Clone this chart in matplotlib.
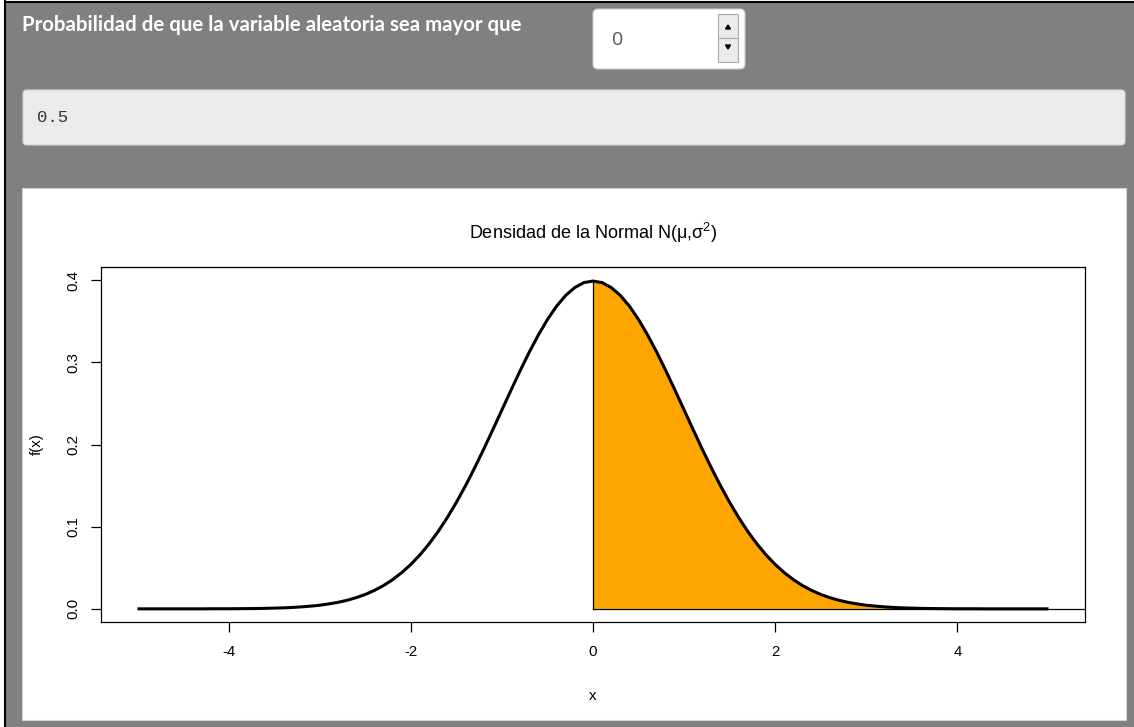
import matplotlib.pyplot as plt
from matplotlib.patches import FancyBboxPatch, Rectangle, Polygon

plt.rcParams['axes.unicode_minus'] = False
plt.rcParams['mathtext.fontset'] = 'custom'
plt.rcParams['mathtext.rm'] = 'Liberation Sans'
plt.rcParams['mathtext.it'] = 'Liberation Sans'

# === Données ===
x_vals = [-5.0, -4.9, -4.8, -4.7, -4.6, -4.5, -4.4, -4.3, -4.2, -4.1,
          -4.0, -3.9, -3.8, -3.7, -3.6, -3.5, -3.4, -3.3, -3.2, -3.1,
          -3.0, -2.9, -2.8, -2.7, -2.6, -2.5, -2.4, -2.3, -2.2, -2.1,
          -2.0, -1.9, -1.8, -1.7, -1.6, -1.5, -1.4, -1.3, -1.2, -1.1,
          -1.0, -0.9, -0.8, -0.7, -0.6, -0.5, -0.4, -0.3, -0.2, -0.1,
          0.0, 0.1, 0.2, 0.3, 0.4, 0.5, 0.6, 0.7, 0.8, 0.9,
          1.0, 1.1, 1.2, 1.3, 1.4, 1.5, 1.6, 1.7, 1.8, 1.9,
          2.0, 2.1, 2.2, 2.3, 2.4, 2.5, 2.6, 2.7, 2.8, 2.9,
          3.0, 3.1, 3.2, 3.3, 3.4, 3.5, 3.6, 3.7, 3.8, 3.9,
          4.0, 4.1, 4.2, 4.3, 4.4, 4.5, 4.6, 4.7, 4.8, 4.9, 5.0]
fx_vals = [0.0000, 0.0000, 0.0000, 0.0000, 0.0000, 0.0000, 0.0000, 0.0000, 0.0001, 0.0001,
           0.0001, 0.0002, 0.0003, 0.0004, 0.0006, 0.0009, 0.0012, 0.0017, 0.0024, 0.0033,
           0.0044, 0.0060, 0.0079, 0.0104, 0.0136, 0.0175, 0.0224, 0.0283, 0.0355, 0.0440,
           0.0540, 0.0656, 0.0790, 0.0940, 0.1109, 0.1295, 0.1497, 0.1714, 0.1942, 0.2179,
           0.2420, 0.2661, 0.2897, 0.3123, 0.3332, 0.3521, 0.3683, 0.3814, 0.3910, 0.3970,
           0.3989, 0.3970, 0.3910, 0.3814, 0.3683, 0.3521, 0.3332, 0.3123, 0.2897, 0.2661,
           0.2420, 0.2179, 0.1942, 0.1714, 0.1497, 0.1295, 0.1109, 0.0940, 0.0790, 0.0656,
           0.0540, 0.0440, 0.0355, 0.0283, 0.0224, 0.0175, 0.0136, 0.0104, 0.0079, 0.0060,
           0.0044, 0.0033, 0.0024, 0.0017, 0.0012, 0.0009, 0.0006, 0.0004, 0.0003, 0.0002,
           0.0001, 0.0001, 0.0001, 0.0000, 0.0000, 0.0000, 0.0000, 0.0000, 0.0000, 0.0000, 0.0000]
umbral = 0
probabilidad = "0.5"
x_ticks = [-4, -2, 0, 2, 4]
y_ticks = [0.0, 0.1, 0.2, 0.3, 0.4]

W, H = 1134, 727
GRIS = "#808080"

fig = plt.figure(figsize=(W / 100, H / 100), dpi=100)
fig.patch.set_facecolor("white")

# === Fond de l'application (coordonnées en pixels) ===
bg = fig.add_axes([0, 0, 1, 1])
bg.set_xlim(0, W)
bg.set_ylim(H, 0)
bg.axis("off")

bg.add_patch(Rectangle((5, 1), W - 5, H - 1, facecolor=GRIS, edgecolor="none"))
bg.plot([5, 5], [1, H], color="black", lw=1.5)
bg.plot([5, W], [1.5, 1.5], color="black", lw=1.5)

bg.text(22, 25, "Probabilidad de que la variable aleatoria sea mayor que",
        color="white", fontsize=14.7, fontweight="bold", family="Lato",
        va="center", ha="left")

# champ numérique
bg.add_patch(FancyBboxPatch((593, 9), 152, 60, boxstyle="round,pad=0,rounding_size=5",
                            facecolor="white", edgecolor="#cccccc", lw=0.8))
bg.text(612, 40, str(umbral), color="#555555", fontsize=14, family="Open Sans",
        va="center", ha="left")
bg.add_patch(Rectangle((718, 14), 20, 24, facecolor="#ebebeb", edgecolor="#aaaaaa", lw=0.8))
bg.add_patch(Rectangle((718, 38), 20, 24, facecolor="#ebebeb", edgecolor="#aaaaaa", lw=0.8))
bg.add_patch(Polygon([[725.5, 29], [730.5, 29], [728, 25]], closed=True, color="black"))
bg.add_patch(Polygon([[725.5, 45], [730.5, 45], [728, 49]], closed=True, color="black"))

# sortie texte
bg.add_patch(FancyBboxPatch((23, 90), 1102, 55, boxstyle="round,pad=0,rounding_size=4",
                            facecolor="#ebebeb", edgecolor="#d5d5d5", lw=0.8))
bg.text(37, 117, probabilidad, color="#333333", fontsize=12.5, family="Liberation Mono",
        va="center", ha="left")

# panneau blanc du graphique
bg.add_patch(Rectangle((22, 188), 1104, 532, facecolor="white", edgecolor="#d0d0d0", lw=0.8))

# === Graphique de la densité ===
left, right, top, bottom = 101, 1085, 267, 622
ax = fig.add_axes([left / W, (H - bottom) / H, (right - left) / W, (bottom - top) / H])
ax.set_xlim(-5.4, 5.4)
ax.set_ylim(-0.016, 0.416)

xs_fill = [x for x in x_vals if x >= umbral]
ys_fill = [y for x, y in zip(x_vals, fx_vals) if x >= umbral]
ax.fill_between(xs_fill, 0, ys_fill, facecolor="#FFA500", edgecolor="none", zorder=1)
ax.plot([umbral, umbral], [0, ys_fill[0]], color="black", lw=0.9, zorder=2)
ax.plot([umbral, 5.4], [0, 0], color="black", lw=0.9, zorder=2)
ax.plot(x_vals, fx_vals, color="black", lw=2.2, zorder=3, solid_capstyle="butt")

for s in ax.spines.values():
    s.set_linewidth(0.9)
ax.set_xticks(x_ticks)
ax.set_yticks(y_ticks)
ax.set_yticklabels([f"{v:.1f}" for v in y_ticks], rotation=90, va="center")
ax.tick_params(axis="both", length=7, width=0.9, labelsize=10.8, pad=8)
ax.tick_params(axis="x", pad=9.5)
for lab in ax.get_xticklabels() + ax.get_yticklabels():
    lab.set_family("Liberation Sans")

ax.set_title(r"Densidad de la Normal N($\mathrm{\mu}$,$\mathrm{\sigma}^2$)",
             family="Liberation Sans", fontsize=13, pad=20)
ax.set_xlabel("x", family="Liberation Sans", fontsize=10.8, labelpad=22)
ax.set_ylabel("f(x)", family="Liberation Sans", fontsize=10.8, labelpad=16)

plt.savefig("out.png", dpi=100)
